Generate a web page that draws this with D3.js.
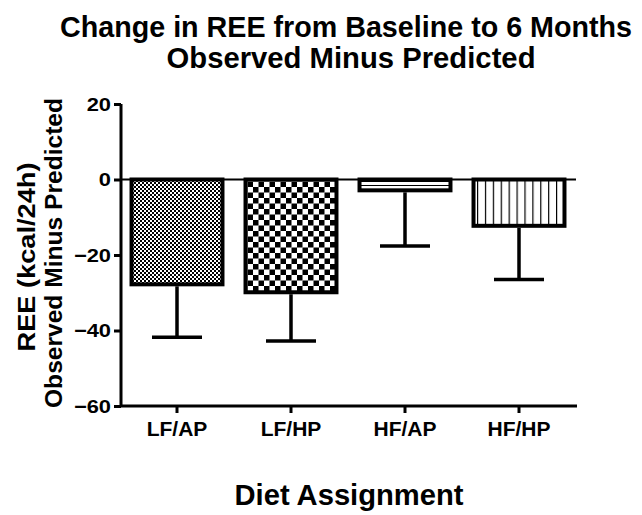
<!DOCTYPE html>
<html>
<head>
<meta charset="utf-8">
<script src="https://cdn.jsdelivr.net/npm/d3@7"></script>
<style>
  body { margin: 0; background: #fff; }
  text { font-family: "Liberation Sans", Arial, Helvetica, sans-serif; font-weight: bold; fill: #000; }
</style>
</head>
<body>
<div id="chart"></div>
<script>
// data
const groups = ["LF/AP", "LF/HP", "HF/AP", "HF/HP"];
const means = [-28.3, -30.4, -3.4, -12.8];
const errLow = [-41.8, -42.8, -17.6, -26.5];
const patterns = ["fineCheck", "bigCheck", "hLines", "vLines"];
const yTicks = [20, 0, -20, -40, -60];

const width = 642, height = 515;

const svg = d3.select("#chart").append("svg")
    .attr("width", width)
    .attr("height", height);

// fill patterns
const defs = svg.append("defs");

let p = defs.append("pattern").attr("id", "fineCheck")
    .attr("patternUnits", "userSpaceOnUse").attr("width", 4).attr("height", 4);
p.append("rect").attr("width", 4).attr("height", 4).attr("fill", "#fff");
p.append("rect").attr("width", 2).attr("height", 2).attr("fill", "#000");
p.append("rect").attr("x", 2).attr("y", 2).attr("width", 2).attr("height", 2).attr("fill", "#000");

p = defs.append("pattern").attr("id", "bigCheck")
    .attr("patternUnits", "userSpaceOnUse").attr("width", 11).attr("height", 11);
p.append("rect").attr("width", 11).attr("height", 11).attr("fill", "#fff");
p.append("rect").attr("width", 5.5).attr("height", 5.5).attr("fill", "#000");
p.append("rect").attr("x", 5.5).attr("y", 5.5).attr("width", 5.5).attr("height", 5.5).attr("fill", "#000");

p = defs.append("pattern").attr("id", "hLines")
    .attr("patternUnits", "userSpaceOnUse").attr("width", 8).attr("height", 4).attr("y", 178);
p.append("rect").attr("width", 8).attr("height", 4).attr("fill", "#fff");
p.append("rect").attr("y", 3).attr("width", 8).attr("height", 1).attr("fill", "#000");

p = defs.append("pattern").attr("id", "vLines")
    .attr("patternUnits", "userSpaceOnUse").attr("width", 7.9).attr("height", 8).attr("x", 3);
p.append("rect").attr("width", 7.9).attr("height", 8).attr("fill", "#fff");
p.append("rect").attr("x", 0).attr("width", 1.2).attr("height", 8).attr("fill", "#000");

// scales
const x = d3.scaleBand().domain(groups).range([120, 576])
    .paddingInner(0.167).paddingOuter(0.0835);
const y = d3.scaleLinear().domain([-60, 20]).range([406, 104]);

// zero line
svg.append("line")
    .attr("x1", 121).attr("x2", 576)
    .attr("y1", y(0)).attr("y2", y(0))
    .attr("stroke", "#000").attr("stroke-width", 2);

// error bars (drawn below the bars)
const eb = svg.append("g");
groups.forEach((g, i) => {
    let cx = x(g) + x.bandwidth() / 2;
    eb.append("line")
        .attr("x1", cx).attr("x2", cx)
        .attr("y1", y(means[i])).attr("y2", y(errLow[i]))
        .attr("stroke", "#000").attr("stroke-width", 3.5);
    eb.append("line")
        .attr("x1", cx - 25).attr("x2", cx + 25)
        .attr("y1", y(errLow[i])).attr("y2", y(errLow[i]))
        .attr("stroke", "#000").attr("stroke-width", 3.5);
});

// bars
svg.append("g")
    .selectAll("rect")
    .data(groups)
    .enter()
    .append("rect")
    .attr("x", (d) => x(d) + 2)
    .attr("width", x.bandwidth() - 4)
    .attr("y", y(0))
    .attr("height", (d, i) => y(means[i]) - y(0) - 2)
    .attr("fill", (d, i) => "url(#" + patterns[i] + ")")
    .attr("stroke", "#000")
    .attr("stroke-width", 4);

// axes
const yAxis = svg.append("g")
    .attr("transform", "translate(121,0)")
    .call(d3.axisLeft(y).tickValues(yTicks).tickSize(7).tickPadding(3));
const xAxis = svg.append("g")
    .attr("transform", "translate(0,406)")
    .call(d3.axisBottom(x).tickSize(7).tickPadding(8));

[yAxis, xAxis].forEach((a) => {
    a.select(".domain").attr("stroke-width", 3).attr("stroke", "#000");
    a.selectAll(".tick line").attr("stroke-width", 3).attr("stroke", "#000");
    a.selectAll("text").attr("fill", "#000")
        .style("font-family", "'Liberation Sans', Arial, sans-serif").style("font-weight", "bold");
});
xAxis.selectAll("text").style("font-size", "21px");
// y tick labels are a bit wider than tall in the original
yAxis.selectAll("text").style("font-size", "19px")
    .each(function () {
        let w = this.getComputedTextLength();
        d3.select(this).attr("textLength", w * 1.15).attr("lengthAdjust", "spacingAndGlyphs");
    });
// x axis extends to the right edge of the plot
xAxis.select(".domain").attr("d", "M121,0H577");
yAxis.select(".domain").attr("d", "M0,104V406");

// titles
function label(txt, tx, ty, size, len, rotate, sy) {
    let t = svg.append("text")
        .attr("text-anchor", "middle")
        .style("font-size", size + "px")
        .attr("textLength", len)
        .attr("lengthAdjust", "spacingAndGlyphs")
        .text(txt);
    let tr = "translate(" + tx + "," + ty + ")";
    if (rotate) tr += " rotate(-90)";
    if (sy) tr += " scale(1," + sy + ")";
    t.attr("transform", tr);
    return t;
}

label("Change in REE from Baseline to 6 Months", 346, 37, 27, 572, false, 1.11);
label("Observed Minus Predicted", 351, 68, 27, 369, false, 1.11);
label("REE (kcal/24h)", 35, 257, 23, 189, true);
label("Observed Minus Predicted", 62, 253, 23, 310, true);
label("Diet Assignment", 349, 505, 29, 229);
</script>
</body>
</html>
